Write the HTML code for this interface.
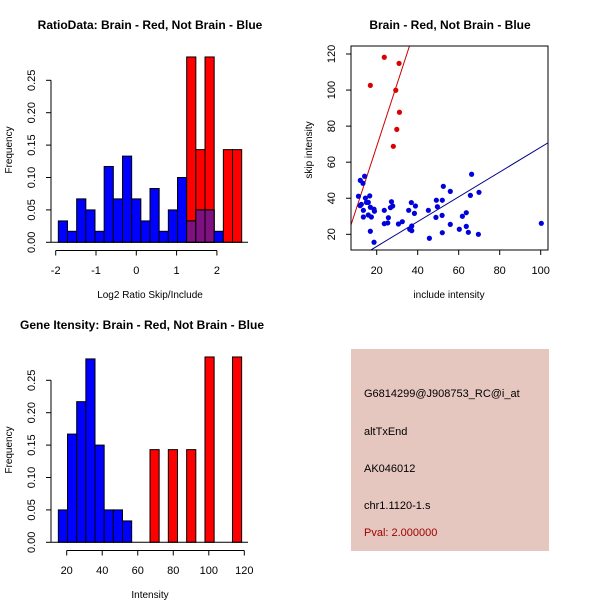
<!DOCTYPE html>
<html><head><meta charset="utf-8"><style>
body{margin:0;background:#fff;}
svg{display:block;font-family:"Liberation Sans",sans-serif;}
</style></head><body>
<svg id="s" width="600" height="600" viewBox="0 0 600 600">
<rect width="600" height="600" fill="#fff"/>
<text x="150" y="29" text-anchor="middle" font-size="12" font-weight="bold">RatioData: Brain - Red, Not Brain - Blue</text>
<text x="450" y="29" text-anchor="middle" font-size="12" font-weight="bold">Brain - Red, Not Brain - Blue</text>
<text x="142" y="329" text-anchor="middle" font-size="12" font-weight="bold">Gene Itensity: Brain - Red, Not Brain - Blue</text>
<g>
<rect x="351" y="349" width="198" height="202" fill="#e5c7bf"/>
<text x="364" y="397" font-size="11">G6814299@J908753_RC@i_at</text>
<text x="364" y="435" font-size="11">altTxEnd</text>
<text x="364" y="472" font-size="11">AK046012</text>
<text x="364" y="509" font-size="11">chr1.1120-1.s</text>
<text x="364" y="536" font-size="11" fill="#a00000">Pval: 2.000000</text>
</g>
</svg>
<script>
// Ratio histogram data
const ratioBreakStart = -1.935;
const ratioBinWidth = 0.2275;
const ratioBlue = [0.033,0.017,0.067,0.05,0.017,0.117,0.067,0.133,0.067,0.033,0.083,0.017,0.05,0.1,0.033,0.05,0.05,0.017];
const ratioRed = [0,0,0,0,0,0,0,0,0,0,0,0,0,0,0.286,0.143,0.286,0,0.143,0.143];
const ratioXTicks = [-2,-1,0,1,2];
const freqTicks = [0,0.05,0.10,0.15,0.20,0.25];
const freqTickLabels = ["0.00","0.05","0.10","0.15","0.20","0.25"];
// Intensity histogram data
const intBreakStart = 15.3;
const intBinWidth = 5.16;
const intBlue = [0.05,0.167,0.217,0.283,0.15,0.05,0.05,0.033];
const intRed = [0,0,0,0,0,0,0,0,0,0,0.143,0,0.143,0,0.143,0,0.286,0,0,0.286];
const intXTicks = [20,40,60,80,100,120];
// Scatter data
const blueX = [11.1,11.9,12.5,14.1,12.0,13.3,13.5,13.5,14.5,15.0,16.6,15.9,16.9,15.9,17.4,16.9,18.7,18.9,18.7,23.7,23.7,25.7,25.4,26.7,27.2,27.8,30.6,32.5,35.6,36.1,36.9,37.1,37.1,38.4,38.9,45.2,45.7,49.1,48.9,49.6,51.9,52.0,52.5,52.0,55.9,55.9,60.3,61.8,63.7,63.7,64.7,65.7,66.3,69.9,69.6,100.3];
const blueY = [41.1,35.9,36.6,52.2,49.9,48.3,33.3,29.6,40.1,37.7,41.3,37.7,35.0,30.7,29.6,21.7,33.9,32.8,15.6,33.3,25.9,29.2,26.3,34.8,38.1,35.7,25.7,27.0,33.3,22.8,37.6,24.6,22.0,31.6,35.7,33.3,17.8,38.9,29.4,35.3,30.5,38.9,46.6,20.9,43.8,25.5,22.8,30.0,32.0,24.4,21.1,41.6,53.3,43.3,20.0,26.1];
const redX = [23.7,30.9,16.9,29.3,31.1,29.8,28.1];
const redY = [118.2,114.8,102.6,99.9,87.7,78.2,68.8];
const redLine = [-0.8,3.48];   // intercept, slope
const blueLine = [-0.5,0.688];
const scXTicks = [20,40,60,80,100];
const scYTicks = [20,40,60,80,100,120];

const NS="http://www.w3.org/2000/svg";
const svg=document.getElementById('s');
function mk(tag,attrs,parent){const e=document.createElementNS(NS,tag);for(const k in attrs)e.setAttribute(k,attrs[k]);(parent||svg).appendChild(e);return e;}
function txt(x,y,s,attrs,parent){const t=mk('text',Object.assign({x:x,y:y,'font-size':11,'text-anchor':'middle'},attrs||{}),parent);t.textContent=s;return t;}

function drawHist(oy,bx0,bstart,bw,blue,red,xTicks,xLab,xScale,name){
  const g=mk('g',{});
  
  
  const yS=v=>oy+242.3-v*648;
  const n=Math.max(blue.length,red.length);
  for(let i=0;i<n;i++){
    const b=blue[i]||0,r=red[i]||0;
    const x1=xScale(bstart+i*bw),x2=xScale(bstart+(i+1)*bw);
    if(r>0){const e=mk('rect',{x:x1,y:yS(r),width:x2-x1,height:yS(0)-yS(r),fill:'#ff0000',stroke:'#000','stroke-width':1},g);
      
      }
    if(b>0){const e=mk('rect',{x:x1,y:yS(b),width:x2-x1,height:yS(0)-yS(b),fill:'#0000ff',stroke:'#000','stroke-width':1},g);
      
      }
    if(r>0&&b>0){const m=Math.min(r,b);const e=mk('rect',{x:x1,y:yS(m),width:x2-x1,height:yS(0)-yS(m),fill:'#7f107f',stroke:'#000','stroke-width':1},g);
      
      }
  }
  mk('line',{x1:51,x2:248,y1:yS(0),y2:yS(0),stroke:'#000'},g);
  // y axis
  const ya=mk('g',{},g);
  
  
  mk('line',{x1:51,x2:51,y1:yS(0),y2:yS(0.25),stroke:'#000'},ya);
  freqTicks.forEach((v,i)=>{mk('line',{x1:46,x2:51,y1:yS(v),y2:yS(v),stroke:'#000'},ya);
    const t=txt(0,0,freqTickLabels[i],{transform:`translate(35,${yS(v)}) rotate(-90)`},ya);
    
    });
  const yt=txt(0,0,'Frequency',{'font-size':10,transform:`translate(12,${oy+150}) rotate(-90)`},g);
  
  
  // x axis
  const xa=mk('g',{},g);
  
  
  const ay=oy+250.5;
  mk('line',{x1:xScale(xTicks[0]),x2:xScale(xTicks[xTicks.length-1]),y1:ay,y2:ay,stroke:'#000'},xa);
  xTicks.forEach(v=>{mk('line',{x1:xScale(v),x2:xScale(v),y1:ay,y2:ay+5,stroke:'#000'},xa);
    const t=txt(xScale(v),oy+274,String(v),{},xa);
    
    });
  const xt=txt(150,oy+298,xLab,{'font-size':10},g);
  
  
}
drawHist(0,51,ratioBreakStart,ratioBinWidth,ratioBlue,ratioRed,ratioXTicks,'Log2 Ratio Skip/Include',v=>55.7+(v+2)*40.3,'ratio-histogram');
drawHist(300,51,intBreakStart,intBinWidth,intBlue,intRed,intXTicks,'Intensity',v=>66.7+(v-20)*1.776,'intensity-histogram');

// scatter
const sx=v=>376.7+(v-20)*2.05, sy=v=>234.3-(v-20)*1.803;
const sg=mk('g',{});


mk('clipPath',{id:'cp'},sg);
mk('rect',{x:351,y:46,width:197,height:204},document.getElementById('cp'));
const xmin=7.5,xmax=103.6;
[[redLine,'#cc0000','red-fit-line'],[blueLine,'#00008b','blue-fit-line']].forEach(([l,c,n])=>{
  const e=mk('line',{x1:sx(xmin),y1:sy(l[0]+l[1]*xmin),x2:sx(xmax),y2:sy(l[0]+l[1]*xmax),stroke:c,'stroke-width':1,'clip-path':'url(#cp)'},sg);
  
  
});
blueX.forEach((x,i)=>{const c=mk('circle',{cx:sx(x),cy:sy(blueY[i]),r:2.6,fill:'#0000dd'},sg);
  
  });
redX.forEach((x,i)=>{const c=mk('circle',{cx:sx(x),cy:sy(redY[i]),r:2.6,fill:'#dd0000'},sg);
  
  });
mk('rect',{x:351,y:46,width:197,height:204,fill:'none',stroke:'#000'},sg);
scXTicks.forEach(v=>{mk('line',{x1:sx(v),x2:sx(v),y1:250,y2:255,stroke:'#000'},sg);
  const t=txt(sx(v),274,String(v),{},sg);
  
  });
scYTicks.forEach(v=>{mk('line',{x1:346,x2:351,y1:sy(v),y2:sy(v),stroke:'#000'},sg);
  const t=txt(0,0,String(v),{transform:`translate(335,${sy(v)}) rotate(-90)`},sg);
  
  });
const sxt=txt(449,298,'include intensity',{'font-size':10},sg);


const syt=txt(0,0,'skip intensity',{'font-size':10,transform:'translate(312,150) rotate(-90)'},sg);


</script>
</body></html>
